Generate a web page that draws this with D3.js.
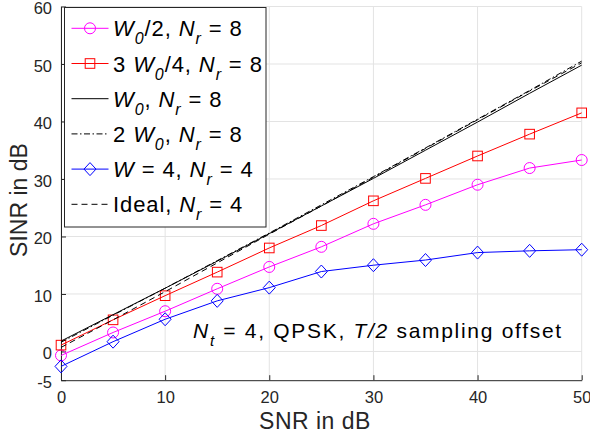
<!DOCTYPE html>
<html><head><meta charset="utf-8">
<script src="https://cdn.jsdelivr.net/npm/d3@7"></script>
<style>body{margin:0;background:#fff}svg{display:block}text{font-family:"Liberation Sans",Arial,Helvetica,sans-serif}</style>
</head><body><svg id="c" width="590" height="436"></svg>
<script>
const snr = [0,5,10,15,20,25,30,35,40,45,50];
const halfW0 = [-0.7,3.3,7.0,10.9,14.7,18.2,22.2,25.5,29.0,31.9,33.3];
const threeQW0 = [1.1,5.5,9.7,13.8,18.0,21.9,26.2,30.1,34.0,37.8,41.5];
const fullW0 = [1.8,6.4,11.0,15.7,20.5,25.3,30.1,35.0,39.9,44.9,49.8];
const doubleW0 = [1.6,6.3,11.0,15.8,20.6,25.5,30.4,35.4,40.4,45.4,50.5];
const w4Nr4 = [-2.6,1.7,5.6,8.8,11.1,13.9,15.0,15.9,17.2,17.5,17.7];
const idealNr4 = [0.7,5.5,10.4,15.4,20.4,25.3,30.3,35.3,40.3,45.3,50.2];
const xTicks = [0,10,20,30,40,50];
const yTicks = [-5,0,10,20,30,40,50,60];
const yGrid = [0,10,20,30,40,50,60];

const svg = d3.select("#c");
const x = d3.scaleLinear().domain([0,50]).range([61,581.7]);
const y = d3.scaleLinear().domain([-5,60]).range([380.2,6.5]);
const axc = "#262626";

// grid
svg.append("g").selectAll("line").data(xTicks).join("line")
  .attr("x1",d=>x(d)).attr("x2",d=>x(d)).attr("y1",y(-5)).attr("y2",y(60))
  .attr("stroke","#e3e3e3").attr("stroke-width",1);
svg.append("g").selectAll("line").data(yGrid).join("line")
  .attr("x1",x(0)).attr("x2",x(50)).attr("y1",d=>y(d)).attr("y2",d=>y(d))
  .attr("stroke","#e3e3e3").attr("stroke-width",1);

// axes
const fmt = d => String(d);
const xa = svg.append("g").attr("transform",`translate(0,${y(-5)})`)
  .call(d3.axisBottom(x).tickValues(xTicks).tickFormat(fmt).tickSizeInner(-5).tickSizeOuter(0).tickPadding(11));
const ya = svg.append("g").attr("transform",`translate(${x(0)},0)`)
  .call(d3.axisLeft(y).tickValues(yTicks).tickFormat(fmt).tickSizeInner(-5).tickSizeOuter(0).tickPadding(9));
[xa,ya].forEach(a=>{
  a.select(".domain").attr("stroke",axc).attr("stroke-width",1);
  a.selectAll(".tick line").attr("stroke",axc);
  a.selectAll(".tick text").attr("fill",axc).style("font-size","16.5px").style("font-family",'"Liberation Sans",Arial,sans-serif');
});
ya.selectAll(".tick text").attr("dy","0.45em");

svg.append("text").attr("x",315).attr("y",429).attr("text-anchor","middle")
  .attr("fill",axc).style("font-size","23px").style("letter-spacing","0.5px").text("SNR in dB");
svg.append("text").attr("transform","translate(27,200) rotate(-90)").attr("text-anchor","middle")
  .attr("fill",axc).style("font-size","23px").text("SINR in dB");

const line = vals => d3.line().x((d,i)=>x(snr[i])).y(d=>y(d))(vals);
const series = [
  {v:halfW0,c:"#ff00ff",m:"circle"},
  {v:threeQW0,c:"#ff0000",m:"square"},
  {v:fullW0,c:"#000",m:null},
  {v:doubleW0,c:"#000",m:null,dash:"6,2.5,1.5,2.5"},
  {v:w4Nr4,c:"#0000ff",m:"diamond"},
  {v:idealNr4,c:"#000",m:null,dash:"6,4"}
];
function marker(g,type,cx,cy,c){
  if(type==="circle") g.append("circle").attr("cx",cx).attr("cy",cy).attr("r",5.5).attr("fill","none").attr("stroke",c);
  else if(type==="square") g.append("rect").attr("x",cx-4.8).attr("y",cy-4.8).attr("width",9.6).attr("height",9.6).attr("fill","none").attr("stroke",c);
  else if(type==="diamond") g.append("path").attr("d",`M${cx},${cy-6.5}L${cx+6},${cy}L${cx},${cy+6.5}L${cx-6},${cy}Z`).attr("fill","none").attr("stroke",c);
}
series.forEach(s=>{
  svg.append("path").attr("d",line(s.v)).attr("fill","none").attr("stroke",s.c).attr("stroke-width",1)
    .attr("stroke-dasharray",s.dash||null);
  if(s.m){const g=svg.append("g"); s.v.forEach((d,i)=>marker(g,s.m,x(snr[i]),y(d),s.c));}
});

// annotation
const ann = svg.append("text").attr("x",193).attr("y",338).attr("fill","#000")
  .style("font-size","21px").style("letter-spacing","1.7px");
ann.append("tspan").style("font-style","italic").text("N");
ann.append("tspan").style("font-style","italic").style("font-size","15px").attr("dy",8).text("t");
ann.append("tspan").attr("dy",-8).text(" = 4, QPSK, ");
ann.append("tspan").style("font-style","italic").text("T/2");
ann.append("tspan").text(" sampling offset");

// legend
const lg = svg.append("g");
lg.append("rect").attr("x",64.5).attr("y",7.5).attr("width",201.5).attr("height",219.5)
  .attr("fill","#fff").attr("stroke",axc).attr("stroke-width",1);
const labels = [
  [["","W","i"],["sub","0","i"],["","/2, ",""],["","N","i"],["sub","r","i"],[""," = 8",""]],
  [["","3 ",""],["","W","i"],["sub","0","i"],["","/4, ",""],["","N","i"],["sub","r","i"],[""," = 8",""]],
  [["","W","i"],["sub","0","i"],["",", ",""],["","N","i"],["sub","r","i"],[""," = 8",""]],
  [["","2 ",""],["","W","i"],["sub","0","i"],["",", ",""],["","N","i"],["sub","r","i"],[""," = 8",""]],
  [["","W","i"],[""," = 4, ",""],["","N","i"],["sub","r","i"],[""," = 4",""]],
  [["","Ideal, ",""],["","N","i"],["sub","r","i"],[""," = 4",""]]
];
series.forEach((s,k)=>{
  const cy = 28.3 + k*35.2;
  lg.append("line").attr("x1",71.5).attr("x2",108.5).attr("y1",cy).attr("y2",cy)
    .attr("stroke",s.c).attr("stroke-width",1).attr("stroke-dasharray",s.dash||null);
  if(s.m) marker(lg,s.m,90,cy,s.c);
  const t = lg.append("text").attr("x",113).attr("y",cy+8).attr("fill","#000")
    .style("font-size","22px").style("letter-spacing","0.9px");
  let inSub=false;
  labels[k].forEach(([kind,str,st])=>{
    const ts=t.append("tspan").text(str);
    if(st==="i") ts.style("font-style","italic");
    if(kind==="sub"){ts.style("font-size","16px").attr("dy",inSub?0:8); inSub=true;}
    else { if(inSub) ts.attr("dy",-8); inSub=false; }
  });
});
</script></body></html>
